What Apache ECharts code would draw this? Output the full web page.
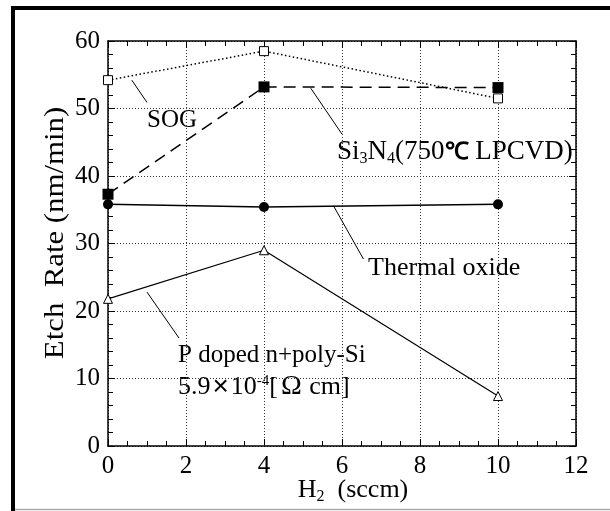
<!DOCTYPE html>
<html><head><meta charset="utf-8">
<script src="https://cdn.jsdelivr.net/npm/echarts@6/dist/echarts.min.js"></script>
<style>html,body{margin:0;padding:0;background:#fff}#c{width:610px;height:511px}</style>
</head><body><div id="c"></div>
<script>
var h2 = [0, 4, 10];
var sog = [54.2, 58.5, 51.5];
var si3n4 = [37.3, 53.2, 53.1];
var thermalOxide = [35.8, 35.4, 35.8];
var polySi = [21.8, 29.0, 7.4];
var xTicks = [0, 2, 4, 6, 8, 10, 12];
var yTicks = [0, 10, 20, 30, 40, 50, 60];

var F = '"Liberation Serif","Times New Roman",serif';
var SANS = '"Liberation Sans",Arial,sans-serif';
function pts(ys){ return h2.map(function(x,i){ return [x, ys[i]]; }); }
function leader(a, b){
  return { silent: true, symbol: ['none','none'], label: {show:false},
    lineStyle: {color:'#000', width:1, type:'solid'}, animation:false,
    data: [[{coord:a},{coord:b}]] };
}
var chart = echarts.init(document.getElementById('c'), null, {renderer:'canvas'});
var baseX = {type:'value', min:xTicks[0], max:xTicks[xTicks.length-1], interval:2};
var baseY = {type:'value', min:yTicks[0], max:yTicks[yTicks.length-1], interval:10};
var tickStyle = {show:true,inside:true,length:7,lineStyle:{color:'#000',width:1}};
var axLine = {show:true,onZero:false,lineStyle:{color:'#000',width:1.5}};
var grid = {show:true,lineStyle:{color:'#333',width:1,type:[1,2]}};
chart.setOption({
  animation:false,
  backgroundColor:'#fff',
  grid:{left:108, right:34, top:41, bottom:65, show:false},
  xAxis:[
    Object.assign({}, baseX, {position:'bottom',
      axisLine:axLine, axisTick:tickStyle,
      minorTick:{show:true,splitNumber:4,length:5,lineStyle:{color:'#000',width:1}},
      axisLabel:{fontFamily:F,fontSize:25,color:'#000',margin:8,
        formatter:function(v){return xTicks.indexOf(v)>=0?String(v):'';}},
      splitLine:grid}),
    Object.assign({}, baseX, {position:'top',
      axisLine:axLine, axisTick:tickStyle,
      minorTick:{show:true,splitNumber:4,length:5,lineStyle:{color:'#000',width:1}},
      axisLabel:{show:false}, splitLine:{show:false}})
  ],
  yAxis:[
    Object.assign({}, baseY, {position:'left',
      axisLine:axLine, axisTick:tickStyle,
      minorTick:{show:true,splitNumber:5,length:5,lineStyle:{color:'#000',width:1}},
      axisLabel:{fontFamily:F,fontSize:25,color:'#000',margin:8,
        formatter:function(v){return yTicks.indexOf(v)>=0?String(v):'';}},
      splitLine:grid}),
    Object.assign({}, baseY, {position:'right',
      axisLine:axLine, axisTick:tickStyle,
      minorTick:{show:true,splitNumber:5,length:5,lineStyle:{color:'#000',width:1}},
      axisLabel:{show:false}, splitLine:{show:false}})
  ],
  series:[
    {name:'P doped n+poly-Si', type:'line', data:pts(polySi), symbol:'triangle', symbolSize:9,
      lineStyle:{color:'#000',width:1.2}, itemStyle:{color:'#fff',borderColor:'#000',borderWidth:1},
      markLine: leader([1.0,22.8],[1.82,16.0])},
    {name:'Thermal oxide', type:'line', data:pts(thermalOxide), symbol:'circle', symbolSize:10,
      lineStyle:{color:'#000',width:1.5}, itemStyle:{color:'#000'},
      markLine: leader([5.78,35.6],[6.55,27.7])},
    {name:'Si3N4', type:'line', data:pts(si3n4), symbol:'rect', symbolSize:11,
      lineStyle:{color:'#000',width:1.5,type:[12,7]}, itemStyle:{color:'#000'},
      markLine: leader([5.2,53.0],[6.0,46.2])},
    {name:'SOG', type:'line', data:pts(sog), symbol:'rect', symbolSize:9,
      lineStyle:{color:'#000',width:1.5,type:[1.5,2.5]}, itemStyle:{color:'#fff',borderColor:'#000',borderWidth:1},
      markLine: leader([0.61,54.2],[1.0,50.9])}
  ],
  graphic:[
    {type:'line', shape:{x1:13,y1:6,x2:13,y2:511}, style:{stroke:'#000',lineWidth:4}},
    {type:'line', shape:{x1:11,y1:8,x2:610,y2:8}, style:{stroke:'#000',lineWidth:4}},
    {type:'line', shape:{x1:15,y1:509.5,x2:610,y2:509.5}, style:{stroke:'#aaa',lineWidth:1.5}},
    {type:'text', x:56, y:233, rotation:Math.PI/2, scaleX:1.1,
      style:{text:'Etch  Rate (nm/min)', font:'28px '+F, fill:'#000', align:'center', verticalAlign:'middle'}},
    {type:'text', x:353, y:490, style:{text:'{a|H}{s|2}{a|  (sccm)}', align:'center', verticalAlign:'middle',
      rich:{a:{fontFamily:F,fontSize:26,fill:'#000'},
            s:{fontFamily:F,fontSize:16,fill:'#000',padding:[14,0,0,0]}}}},
    {type:'text', x:147, y:120, style:{text:'SOG', font:'25px '+F, fill:'#000', verticalAlign:'middle'}},
    {type:'text', x:337, y:152, style:{text:'{a|Si}{s|3}{a|N}{s|4}{a|(750}{c|℃}{a| LPCVD)}', verticalAlign:'middle',
      rich:{a:{fontFamily:F,fontSize:27,fill:'#000'},
            s:{fontFamily:F,fontSize:16,fill:'#000',padding:[13,0,0,0]},
            c:{fontFamily:SANS,fontSize:24,fontWeight:'bold',fill:'#000'}}}},
    {type:'text', x:368, y:268, style:{text:'Thermal oxide', font:'26px '+F, fill:'#000', verticalAlign:'middle'}},
    {type:'text', x:178, y:355, style:{text:'P doped n+poly-Si', font:'25px '+F, fill:'#000', verticalAlign:'middle'}},
    {type:'text', x:178, y:387, style:{text:'{a|5.9}{x|×}{a|10}{p|-4}{a|[}{o|Ω}{a| cm]}', verticalAlign:'middle',
      rich:{a:{fontFamily:F,fontSize:26,fill:'#000'},
            x:{fontFamily:SANS,fontSize:28,fill:'#000',padding:[0,2,0,2]},
            p:{fontFamily:F,fontSize:15,fill:'#000',padding:[0,0,12,0]},
            o:{fontFamily:F,fontSize:28,fill:'#000',padding:[0,1,0,3]}}}}
  ]
});
</script></body></html>
